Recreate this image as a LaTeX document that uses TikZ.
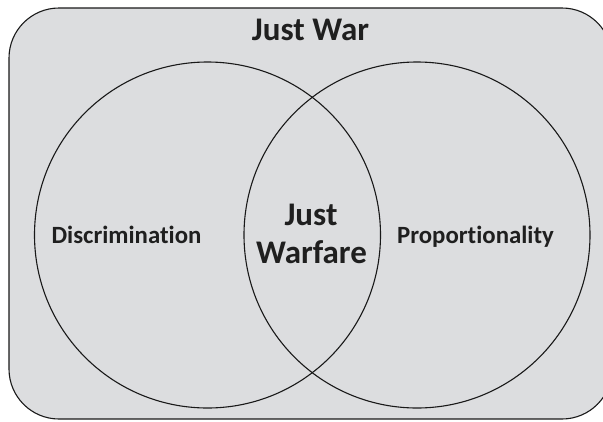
\documentclass[tikz,border=0pt]{standalone}
\usepackage{fontspec}
\setmainfont[Ligatures=NoCommon]{Carlito}
\begin{document}
\begin{tikzpicture}[x=1pt,y=-1pt,
  outline/.style={draw=black!90,line width=1.1pt},
  setlabel/.style={font=\bfseries\fontsize{24.8}{29}\selectfont,text=black!88,inner sep=0pt},
  biglabel/.style={font=\bfseries\fontsize{33}{38}\selectfont,text=black!88,inner sep=0pt,align=center}]
  \useasboundingbox (0,0) rectangle (603,421);
  \clip (0,0) rectangle (603,421);
  \definecolor{panel}{RGB}{220,221,223}
  % outer set: rounded panel
  \draw[outline,fill=panel,rounded corners=50pt] (9,8) rectangle (612,419);
  % the two overlapping sets
  \node[outline,circle,minimum size=346pt,inner sep=0pt] (disc) at (207.5,235) {};
  \node[outline,circle,minimum size=346pt,inner sep=0pt] (prop) at (417,235) {};
  % labels
  \node[biglabel,anchor=base] (war) at (310.5,40.5) {Just War};
  \node[setlabel,anchor=base] (dl) at (126.5,243) {Discrimination};
  \node[setlabel,anchor=base] (pl) at (475.5,243) {Proportionality};
  \node[biglabel,anchor=base] (jw1) at (311,225) {Just};
  \node[biglabel,anchor=base] (jw2) at (311.5,263) {Warfare};
\end{tikzpicture}
\end{document}
